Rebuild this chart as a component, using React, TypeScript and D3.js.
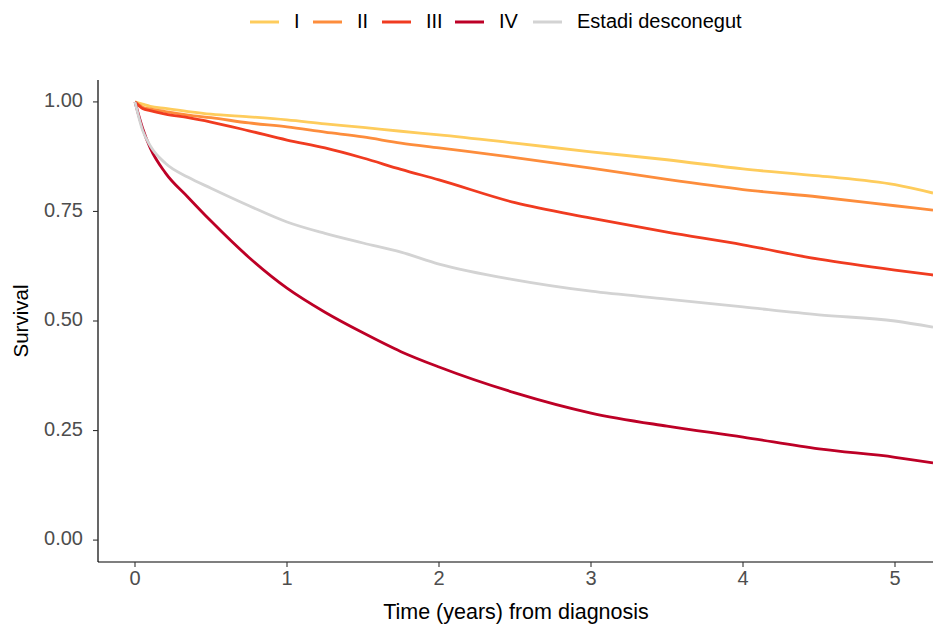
import * as d3 from "d3";

// follow-up times (years) at which the curves were read
const times = [0, 0.05, 0.1, 0.2, 0.35, 0.5, 0.75, 1, 1.25, 1.5, 1.75, 2, 2.5, 3, 3.5, 4, 4.5, 5, 5.25];

const stageI = [1.0, 0.995, 0.99, 0.985, 0.978, 0.972, 0.966, 0.959, 0.95, 0.942, 0.933, 0.925, 0.906, 0.886, 0.868, 0.847, 0.831, 0.811, 0.792];
const stageII = [1.0, 0.988, 0.984, 0.978, 0.97, 0.964, 0.952, 0.943, 0.931, 0.92, 0.906, 0.895, 0.873, 0.849, 0.823, 0.8, 0.783, 0.763, 0.753];
const stageIII = [1.0, 0.985, 0.98, 0.972, 0.964, 0.954, 0.934, 0.913, 0.895, 0.872, 0.846, 0.822, 0.77, 0.735, 0.703, 0.674, 0.641, 0.616, 0.605];
const stageIV = [1.0, 0.94, 0.895, 0.838, 0.782, 0.728, 0.645, 0.575, 0.52, 0.473, 0.43, 0.395, 0.336, 0.29, 0.26, 0.235, 0.208, 0.189, 0.176];
const stageUnknown = [1.0, 0.935, 0.9, 0.86, 0.828, 0.803, 0.763, 0.726, 0.7, 0.678, 0.657, 0.63, 0.594, 0.568, 0.55, 0.532, 0.514, 0.5, 0.486];

const seriesNames = ["I", "II", "III", "IV", "Estadi desconegut"];
const seriesColors = ["#FECC5C", "#FD8D3C", "#F03B20", "#BD0026", "#D3D3D3"];
const seriesValues = [stageI, stageII, stageIII, stageIV, stageUnknown];

const xTicks = [0, 1, 2, 3, 4, 5];
const yTicks = [0, 0.25, 0.5, 0.75, 1];

const legendX = [250, 313, 382, 455, 533];

export default function App() {
  const width = 933;
  const height = 630;
  const panel = { left: 98, right: 933, top: 80, bottom: 562 };

  const x = d3.scaleLinear().domain([-0.2434, 5.25]).range([panel.left, panel.right]);
  const y = d3.scaleLinear().domain([-0.05, 1.05]).range([panel.bottom, panel.top]);

  const line = d3
    .line<number>()
    .x((_, i) => x(times[i]))
    .y((d) => y(d))
    .curve(d3.curveMonotoneX);

  const font = "'Liberation Sans', Arial, sans-serif";

  return (
    <svg
      width={width}
      height={height}
      style={{ position: "absolute", left: 0, top: 0, background: "#fff" }}
      fontFamily={font}
    >
      <defs>
        <clipPath id="panel-clip">
          <rect x={panel.left} y={panel.top} width={panel.right - panel.left} height={panel.bottom - panel.top} />
        </clipPath>
      </defs>

      {/* legend */}
      {seriesNames.map((name, i) => (
        <g key={name}>
          <line x1={legendX[i]} x2={legendX[i] + 29} y1={22} y2={22} stroke={seriesColors[i]} strokeWidth={3} />
          <text x={legendX[i] + 44} y={23} dominantBaseline="middle" fontSize={20} fill="#000">
            {name}
          </text>
        </g>
      ))}

      {/* curves */}
      <g clipPath="url(#panel-clip)">
        {seriesValues.map((vals, i) => (
          <path
            key={seriesNames[i]}
            d={line(vals) ?? ""}
            fill="none"
            stroke={seriesColors[i]}
            strokeWidth={2.8}
            strokeLinejoin="round"
          />
        ))}
      </g>

      {/* axes */}
      <line x1={panel.left} x2={panel.left} y1={panel.top} y2={panel.bottom} stroke="#000" strokeWidth={1.2} />
      <line x1={panel.left} x2={panel.right} y1={panel.bottom} y2={panel.bottom} stroke="#000" strokeWidth={1.2} />

      {yTicks.map((t) => (
        <g key={t}>
          <line x1={panel.left - 5} x2={panel.left} y1={y(t)} y2={y(t)} stroke="#333" strokeWidth={1.1} />
          <text x={panel.left - 15} y={y(t)} textAnchor="end" dominantBaseline="middle" fontSize={20} fill="#4D4D4D">
            {d3.format(".2f")(t)}
          </text>
        </g>
      ))}

      {xTicks.map((t) => (
        <g key={t}>
          <line x1={x(t)} x2={x(t)} y1={panel.bottom} y2={panel.bottom + 5} stroke="#333" strokeWidth={1.1} />
          <text x={x(t)} y={580} textAnchor="middle" dominantBaseline="middle" fontSize={20} fill="#4D4D4D">
            {t}
          </text>
        </g>
      ))}

      <text x={516} y={613} textAnchor="middle" dominantBaseline="middle" fontSize={21.5} fill="#000">
        Time (years) from diagnosis
      </text>
      <text
        transform={`translate(23, ${(panel.top + panel.bottom) / 2}) rotate(-90)`}
        textAnchor="middle"
        dominantBaseline="middle"
        fontSize={20.5}
        fill="#000"
      >
        Survival
      </text>
    </svg>
  );
}
